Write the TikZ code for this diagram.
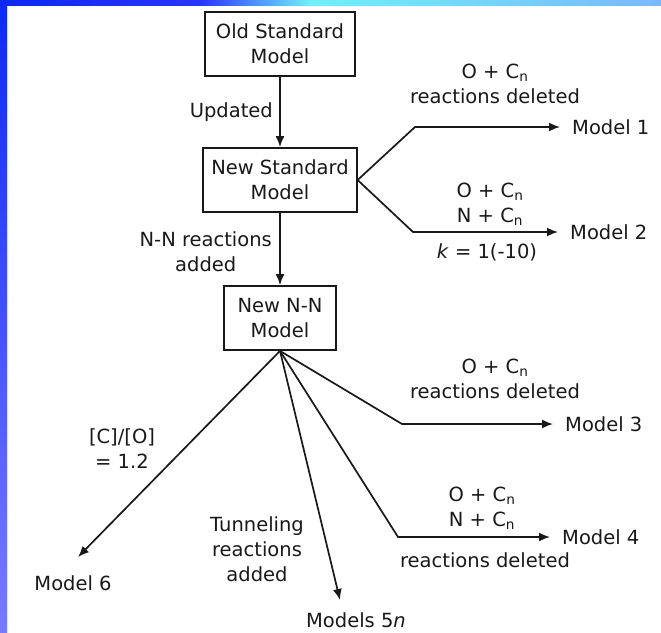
\documentclass[tikz,border=0pt]{standalone}
\usepackage{fontspec}
\setmainfont{DejaVu Sans}
\usetikzlibrary{arrows.meta}
\definecolor{bandblue}{RGB}{12,40,242}
\definecolor{bandmid}{RGB}{40,52,250}
\definecolor{bandcyan}{RGB}{112,240,255}
\definecolor{bandlight}{RGB}{122,184,255}
\definecolor{sidelow}{RGB}{122,122,255}
\definecolor{ink}{RGB}{25,25,25}
\tikzset{
  box/.style={draw=ink, line width=1.8pt, align=center, inner xsep=8pt, minimum height=64pt},
  lab/.style={align=center, inner sep=0pt},
  model/.style={anchor=west, inner xsep=12pt, inner ysep=0pt},
  arr/.style={draw=ink, line width=1.7pt, -{Latex[length=11pt,width=9pt]}},
}

\begin{document}
\begin{tikzpicture}[x=1pt, y=-1pt, font=\fontsize{19.5}{25}\selectfont, text=ink]
\useasboundingbox (0,0) rectangle (661,632);
% Frame
    \fill[white] (0,0) rectangle (661,632);
    \shade[left color=bandblue, right color=bandmid] (0,0) rectangle (200,5);
    \shade[left color=bandmid, right color=bandcyan] (200,0) rectangle (310,5);
    \shade[left color=bandcyan, right color=bandlight] (310,0) rectangle (661,5);
    \shade[top color=bandblue, bottom color=sidelow] (0,0) rectangle (7,632);
% Boxes
    \node[box, minimum width=150pt] (old) at (280,44) {Old Standard\\Model};
    \node[box] (newstd) at (280,180) {New Standard\\Model};
    \node[box, minimum width=112pt] (nn) at (280,318) {New N-N\\Model};
% Models
    \node[model] (m1) at (560,127) {Model 1};
    \node[model] (m2) at (558,232) {Model 2};
    \node[model] (m3) at (553,424) {Model 3};
    \node[model] (m4) at (550,537) {Model 4};
    \node (m5) at (356,620) {Models 5\textit{n}};
    \node (m6) at (73,583) {Model 6};
%Corners and tips
    \coordinate (c1) at (415,127);
    \coordinate (c2) at (413,232);
    \coordinate (c3) at (402,424);
    \coordinate (c4) at (398,537);
    \coordinate (t5) at (340,600);
    \coordinate (t6) at (78,557);
% Arrows
    \draw[arr] (old) -- (newstd);
    \draw[arr] (newstd) -- (nn);
    \draw[arr] (newstd.east) -- (c1) -- (m1.west);
    \draw[arr] (newstd.east) -- (c2) -- (m2.west);
    \draw[arr] (nn.south) -- (c3) -- (m3.west);
    \draw[arr] (nn.south) -- (c4) -- (m4.west);
    \draw[arr] (nn.south) -- (t5);
    \draw[arr] (nn.south) -- (t6);
% Labels
    \node[lab, anchor=east] (upd) at (273,112) {Updated};
    \node[lab, anchor=east] (nnadd) at (272,252) {N-N reactions\\added};
    \node[lab] (l1) at (495,84) {O + C\textsubscript{n}\\reactions deleted};
    \node[lab] (l2) at (490,204) {O + C\textsubscript{n}\\N + C\textsubscript{n}};
    \node[lab] (l2b) at (487,252) {\textit{k} = 1(-10)};
    \node[lab] (l3) at (495,379) {O + C\textsubscript{n}\\reactions deleted};
    \node[lab] (l4) at (482,508) {O + C\textsubscript{n}\\N + C\textsubscript{n}};
    \node[lab] (l4b) at (485,560) {reactions deleted};
    \node[lab] (l6) at (122,449) {[C]/[O]\\= 1.2};
    \node[lab] (l5) at (257,549) {Tunneling\\reactions\\added};
\end{tikzpicture}
\end{document}
